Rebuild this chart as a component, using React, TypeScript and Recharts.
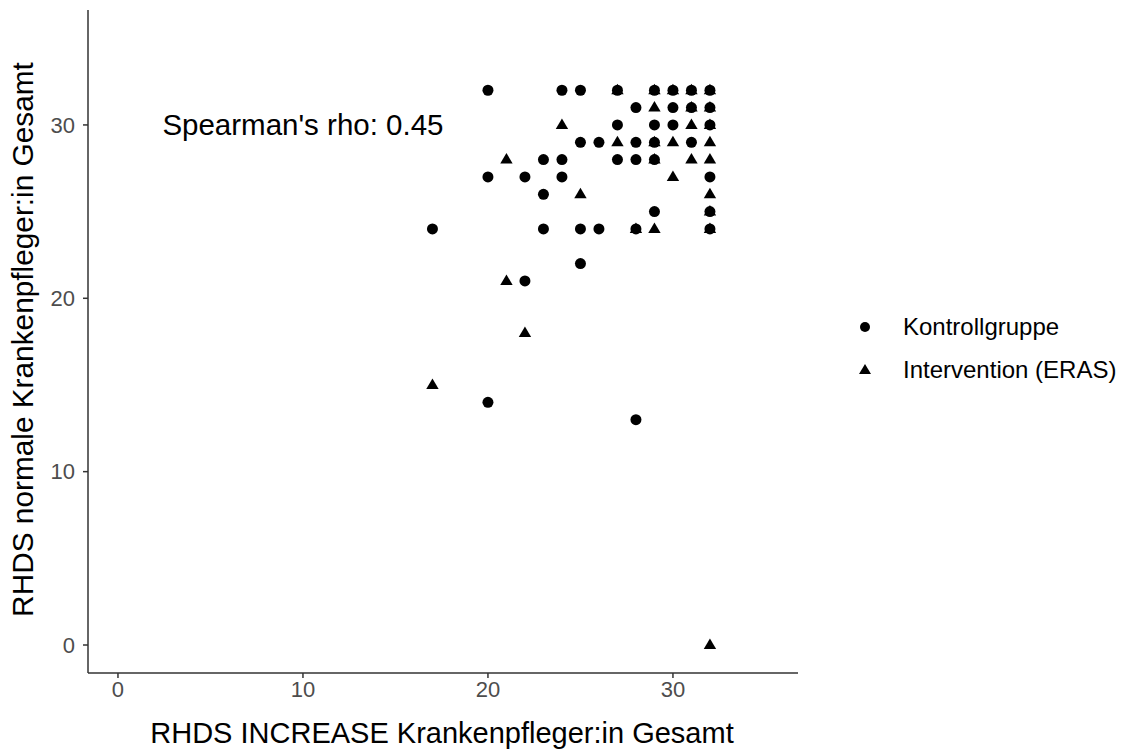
import React from "react";
import { ScatterChart, Scatter, XAxis, YAxis, Legend, ReferenceDot } from "recharts";

// Kontrollgruppe (circles)
const kontrollX = [20, 24, 25, 27, 29, 30, 31, 32, 28, 30, 31, 32, 27, 29, 30, 32, 25, 26, 28, 29, 31, 23, 24, 27, 28, 29, 20, 22, 24, 32, 23, 29, 32, 17, 23, 25, 26, 28, 32, 25, 22, 20, 28];
const kontrollY = [32, 32, 32, 32, 32, 32, 32, 32, 31, 31, 31, 31, 30, 30, 30, 30, 29, 29, 29, 29, 29, 28, 28, 28, 28, 28, 27, 27, 27, 27, 26, 25, 25, 24, 24, 24, 24, 24, 24, 22, 21, 14, 13];

// Intervention (ERAS) (triangles)
const interventionX = [27, 29, 30, 31, 32, 29, 31, 32, 24, 31, 32, 27, 29, 30, 32, 21, 29, 31, 32, 30, 25, 32, 32, 28, 29, 32, 21, 22, 17, 32];
const interventionY = [32, 32, 32, 32, 32, 31, 31, 31, 30, 30, 30, 29, 29, 29, 29, 28, 28, 28, 28, 27, 26, 26, 25, 24, 24, 24, 21, 18, 15, 0];

const xTicks = [0, 10, 20, 30];
const yTicks = [0, 10, 20, 30];
const groups = ["Kontrollgruppe", "Intervention (ERAS)"];
const rhoLabel = "Spearman's rho: 0.45";

const kontroll = kontrollX.map((x, i) => ({ x, y: kontrollY[i] }));
const intervention = interventionX.map((x, i) => ({ x, y: interventionY[i] }));

const FONT = "'Liberation Sans', Arial, sans-serif";

const Dot = (p: any) => <circle cx={p.cx} cy={p.cy} r={5.5} fill="#000" />;
const Tri = (p: any) => (
  <polygon
    points={`${p.cx},${p.cy - 6.5} ${p.cx + 6.2},${p.cy + 4} ${p.cx - 6.2},${p.cy + 4}`}
    fill="#000"
  />
);

const XTitle = ({ viewBox }: any) => (
  <text x={viewBox.x + viewBox.width / 2 - 1} y={viewBox.y + 70} textAnchor="middle" fontSize={29} fill="#000" fontFamily={FONT}>
    RHDS INCREASE Krankenpfleger:in Gesamt
  </text>
);

const YTitle = ({ viewBox }: any) => {
  const cx = 22;
  const cy = viewBox.y + viewBox.height / 2 - 2;
  return (
    <text x={cx} y={cy} transform={`rotate(-90, ${cx}, ${cy})`} textAnchor="middle" dominantBaseline="central" fontSize={29.8} fill="#000" fontFamily={FONT}>
      RHDS normale Krankenpfleger:in Gesamt
    </text>
  );
};

const LegendBox = () => (
  <div style={{ fontFamily: FONT, fontSize: 24, color: "#000" }}>
    {groups.map((g, i) => (
      <div key={g} style={{ display: "flex", alignItems: "center", height: 43 }}>
        <svg width={51} height={20}>
          {i === 0 ? <circle cx={13} cy={10} r={5} fill="#000" /> : <polygon points="13,4 19,14 7,14" fill="#000" />}
        </svg>
        <span>{g}</span>
      </div>
    ))}
  </div>
);

export default function App() {
  return (
    <div style={{ position: "absolute", left: 0, top: 0, background: "#fff" }}>
      <ScatterChart width={1122} height={752} margin={{ top: 10, right: 324, bottom: 0, left: 0 }}>
        <XAxis
          type="number"
          dataKey="x"
          domain={[-1.62, 36.76]}
          ticks={xTicks}
          allowDataOverflow
          height={79}
          stroke="#333"
          strokeWidth={1.5}
          tickSize={5}
          tickMargin={3}
          tick={{ fill: "#4d4d4d", fontSize: 22, fontFamily: FONT }}
          label={<XTitle />}
        />
        <YAxis
          type="number"
          dataKey="y"
          domain={[-1.615, 36.63]}
          ticks={yTicks}
          allowDataOverflow
          width={88}
          stroke="#333"
          strokeWidth={1.5}
          tickSize={5}
          tickMargin={8}
          tick={{ fill: "#4d4d4d", fontSize: 22, fontFamily: FONT }}
          label={<YTitle />}
        />
        <Scatter name={groups[0]} data={kontroll} shape={Dot} isAnimationActive={false} />
        <Scatter name={groups[1]} data={intervention} shape={Tri} isAnimationActive={false} />
        <ReferenceDot
          x={10}
          y={30}
          r={0}
          stroke="none"
          label={{ value: rhoLabel, position: "center", fontSize: 29.5, fill: "#000", fontFamily: FONT }}
        />
        <Legend
          layout="vertical"
          align="center"
          verticalAlign="middle"
          content={<LegendBox />}
          wrapperStyle={{ left: 852, top: 305, width: 270 }}
        />
      </ScatterChart>
    </div>
  );
}
